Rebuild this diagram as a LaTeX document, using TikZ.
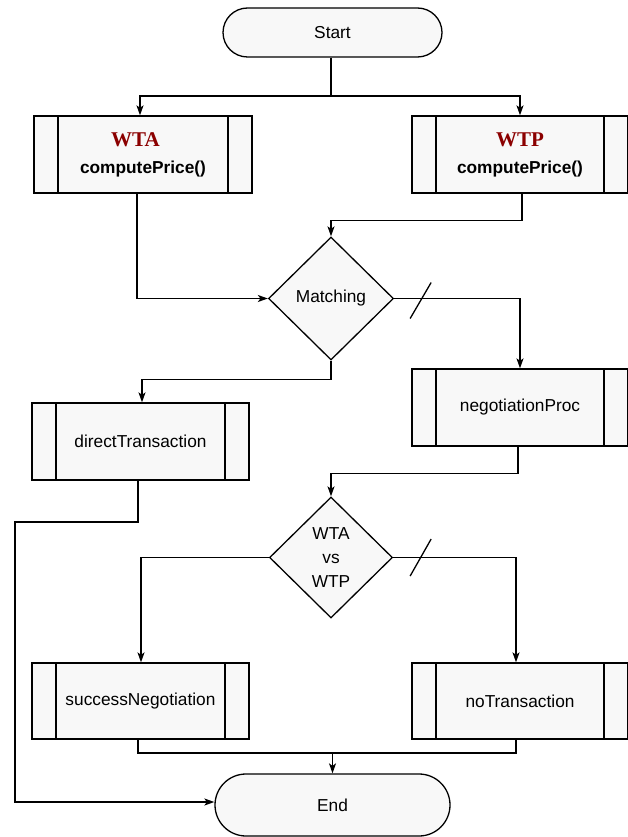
\documentclass[tikz,border=0pt]{standalone}
\usepackage{fontspec}
\setmainfont{Liberation Sans}
\newfontfamily\wtfont{Liberation Serif}
\usetikzlibrary{arrows.meta,shapes.geometric,calc}

\definecolor{boxfill}{HTML}{F8F8F8}
\definecolor{wtred}{RGB}{139,0,0}

\tikzset{
  every node/.style={font=\fontsize{17.3}{24}\selectfont},
  outline/.style={draw=black, line width=1.3pt},
  arr/.style={outline, -{Stealth[length=10pt,width=7pt,inset=2.5pt]}},
  terminal/.style={outline, fill=boxfill, rectangle, inner sep=0pt},
  procbox/.style={outline, fill=boxfill, rectangle, minimum width=#1,
    minimum height=77pt, inner sep=0pt, align=center,
    path picture={
      \draw[line width=1.3pt]
        ([xshift=24pt]path picture bounding box.north west) --
        ([xshift=24pt]path picture bounding box.south west);
      \draw[line width=1.3pt]
        ([xshift=-24pt]path picture bounding box.north east) --
        ([xshift=-24pt]path picture bounding box.south east);
    }},
  decision/.style={outline, fill=boxfill, diamond, shape aspect=1,
    minimum width=125pt, minimum height=123pt, inner sep=0pt, align=center},
  cutmark/.style={draw=black, line width=1.3pt},
}

\newcommand{\wtlabel}[1]{{\wtfont\bfseries\color{wtred}\fontsize{21}{27}\selectfont #1}}

\begin{document}
\begin{tikzpicture}[x=1pt,y=-1pt]
  \useasboundingbox (0,0) rectangle (627,837);

  % terminals
  \node[terminal, minimum width=219pt, minimum height=49pt, rounded corners=24.5pt]
    (st) at (332.5,32.5) {Start};
  \node[terminal, minimum width=235pt, minimum height=62pt, rounded corners=31pt]
    (en) at (332.5,805) {End};

  % price computation
  \node[procbox=218pt, font=\fontsize{17.3}{27}\selectfont] (wta) at (143,154.5)
    {\wtlabel{WTA}\hspace*{15pt}\\ \textbf{computePrice()}};
  \node[procbox=216pt, font=\fontsize{17.3}{27}\selectfont] (wtp) at (520,154.5)
    {\wtlabel{WTP}\\ \textbf{computePrice()}};

  % decisions
  \node[decision] (m) at (331,298.5) {Matching};
  \node[decision, minimum width=123pt, minimum height=121pt] (v) at (331,557.5)
    {WTA\\vs\\WTP};

  % processes
  \node[procbox=217pt] (dt) at (140.5,441.5) {directTransaction};
  \node[procbox=216pt] (np) at (520,407.5) {negotiationProc};
  \node[procbox=217pt, minimum height=76pt] (sn) at (140.5,701) {successNegotiation};
  \node[procbox=216pt, minimum height=76pt] (nt) at (520,701) {noTransaction};

  % junction points
  \coordinate (splitTop) at (331,96);
  \coordinate (joinEnd) at (332.5,753);
  \coordinate (leftRail) at (15,522);

  % Start to the two price computations
  \draw[outline] ([xshift=-1.5pt]st.south) -- (splitTop);
  \draw[arr] (splitTop) -| ([xshift=-3pt]wta.north);
  \draw[arr] (splitTop) -| (wtp.north);

  % price computations into matching
  \draw[arr] ([xshift=-6pt]wta.south) |- (m.west);
  \draw[arr] ([xshift=2pt]wtp.south) -- ++(0,27) -| (m.north);

  % matching outcomes
  \draw[arr] (m.east) -| (np.north);
  \draw[cutmark] ($(m.east)+(16,20)$) -- ($(m.east)+(37,-16)$);
  \draw[arr] (m.south) -- ++(0,19) -| ([xshift=1.5pt]dt.north);

  % negotiation into comparison
  \draw[arr] ([xshift=-2pt]np.south) -- ++(0,27) -| (v.north);

  % comparison outcomes
  \draw[arr] (v.west) -| ([xshift=0.5pt]sn.north);
  \draw[arr] (v.east) -| ([xshift=-4pt]nt.north);
  \draw[cutmark] ($(v.east)+(17,18.5)$) -- ($(v.east)+(38,-18.5)$);

  % into End
  \draw[outline] ([xshift=-2.5pt]sn.south) |- (joinEnd);
  \draw[outline] ([xshift=-4pt]nt.south) |- (joinEnd);
  \draw[arr] (joinEnd) -- (en.north);
  \draw[arr] ([xshift=-2.5pt]dt.south) |- (leftRail) |- ([yshift=3pt]en.west);
\end{tikzpicture}
\end{document}
